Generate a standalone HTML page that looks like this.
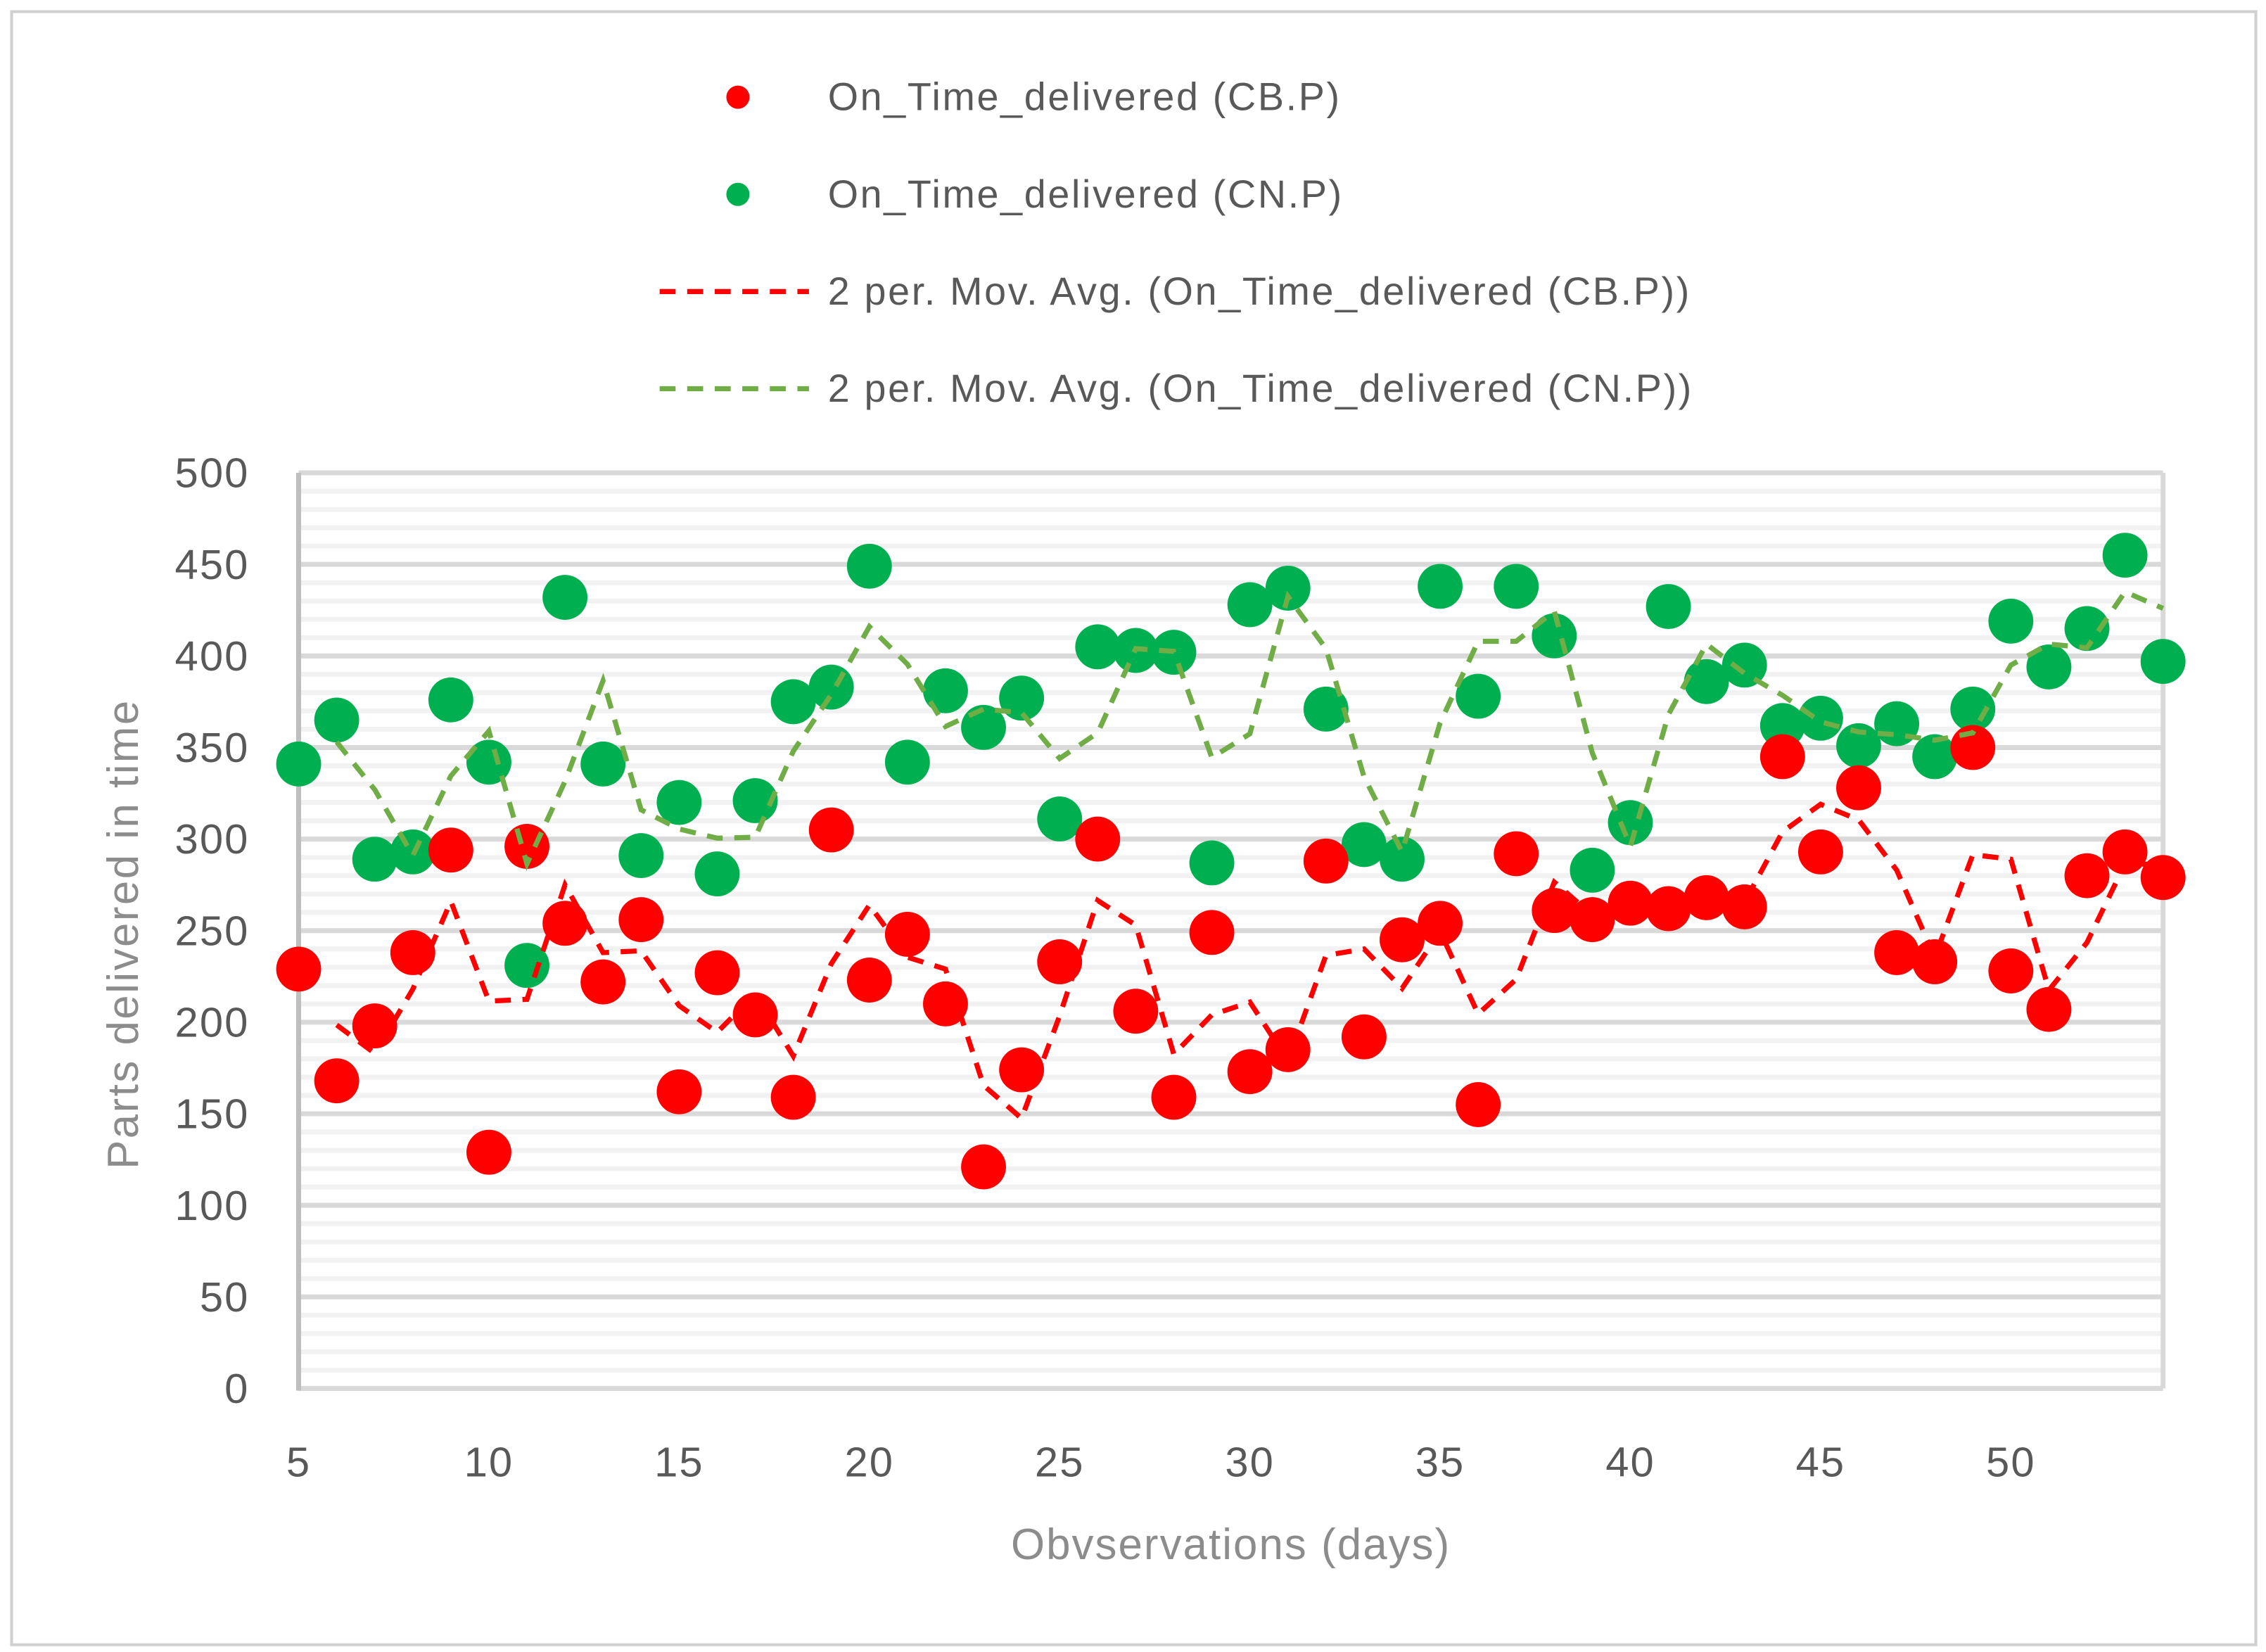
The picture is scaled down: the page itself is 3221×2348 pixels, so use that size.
<!DOCTYPE html>
<html><head><meta charset="utf-8"><style>
html,body{margin:0;padding:0;background:#fff;}
svg{display:block;font-family:"Liberation Sans",sans-serif;}
</style></head><body>
<svg id="chart" width="3221" height="2348" viewBox="0 0 1563 1139" preserveAspectRatio="none" xmlns="http://www.w3.org/2000/svg">
<rect x="8" y="8" width="1548" height="1126" fill="#fff" stroke="#d0d0d0" stroke-width="2"/>
<g id="grid"></g>
<g id="axes"></g>
<g id="series"></g>
<g id="legend">
  <circle cx="509" cy="67" r="8" fill="#ff0000"/>
  <text x="571" y="76" font-size="27" letter-spacing="1.3" fill="#595959">On_Time_delivered (CB.P)</text>
  <circle cx="509" cy="134" r="8" fill="#00b050"/>
  <text x="571" y="143" font-size="27" letter-spacing="1.3" fill="#595959">On_Time_delivered (CN.P)</text>
  <line x1="455" y1="201" x2="558" y2="201" stroke="#ff0000" stroke-width="3.5" stroke-dasharray="11,8"/>
  <text x="571" y="210" font-size="27" letter-spacing="1.3" fill="#595959">2 per. Mov. Avg. (On_Time_delivered (CB.P))</text>
  <line x1="455" y1="268" x2="558" y2="268" stroke="#70ad47" stroke-width="3.5" stroke-dasharray="11,8"/>
  <text x="571" y="277" font-size="27" letter-spacing="1.3" fill="#595959">2 per. Mov. Avg. (On_Time_delivered (CN.P))</text>
</g>
<text x="95" y="644" font-size="30" letter-spacing="1.2" fill="#8c8c8c" text-anchor="middle" transform="rotate(-90 95 644)">Parts delivered in time</text>
<text x="849" y="1075" font-size="30" letter-spacing="1" fill="#8c8c8c" text-anchor="middle">Obvservations (days)</text>
</svg>
<script>
const days=[5,6,7,8,9,10,11,12,13,14,15,16,17,18,19,20,21,22,23,24,25,26,27,28,29,30,31,32,33,34,35,36,37,38,39,40,41,42,43,44,45,46,47,48,49,50,51,52,53,54];
const cbp=[229,168,198,238,294,129,296,254,222,256,162,227,204,159,305,223,248,210,121,174,233,300,206,159,249,173,185,288,192,245,254,155,292,261,256,265,262,268,263,345,293,328,238,233,350,228,207,280,293,279];
const cnp=[341,365,289,293,376,342,231,432,341,291,320,281,321,375,383,449,342,381,361,377,311,405,403,402,287,428,437,371,297,289,438,378,438,411,283,309,427,386,395,362,366,351,363,345,371,419,394,415,455,397];
const yTicks=[0,50,100,150,200,250,300,350,400,450,500];
const xTicks=[5,10,15,20,25,30,35,40,45,50];
const NS="http://www.w3.org/2000/svg";
const X0=206,X1=1492,Y0=957.3,Y1=326;
function xs(d){return X0+(d-5)/(54-5)*(X1-X0);}
function ys(v){return Y0-(v/500)*(Y0-Y1);}
function mk(tag,attrs,parent){const e=document.createElementNS(NS,tag);for(const k in attrs)e.setAttribute(k,attrs[k]);parent.appendChild(e);return e;}
const grid=document.getElementById('grid'),axes=document.getElementById('axes'),series=document.getElementById('series');
for(let v=10;v<=500;v+=10){if(v%50===0)continue;
 const l=mk('line',{x1:X0,x2:X1,y1:ys(v),y2:ys(v),stroke:'#f2f2f2','stroke-width':3.4},grid);
 
 }
yTicks.forEach(v=>{
 const l=mk('line',{x1:X0,x2:X1,y1:ys(v),y2:ys(v),stroke:'#d9d9d9','stroke-width':3.4},grid);
 
 
 const t=mk('text',{x:172,y:ys(v)+10,'font-size':29,'letter-spacing':1,fill:'#595959','text-anchor':'end'},axes);t.textContent=v;
 
 });
const la=mk('line',{x1:X0,x2:X0,y1:Y1,y2:Y0+1.5,stroke:'#bfbfbf','stroke-width':3.4},axes);


const ra=mk('line',{x1:X1,x2:X1,y1:Y1,y2:Y0,stroke:'#d9d9d9','stroke-width':3.4},axes);


xTicks.forEach(d=>{const t=mk('text',{x:xs(d),y:1018,'font-size':29,'letter-spacing':1,fill:'#595959','text-anchor':'middle'},axes);t.textContent=d;
 
 });
function avgPath(arr,color,name){let p='';for(let i=1;i<arr.length;i++){const v=(arr[i]+arr[i-1])/2;p+=(i===1?'M':'L')+xs(days[i])+','+ys(v)+' ';}
 const e=mk('path',{d:p,fill:'none',stroke:color,'stroke-width':3.5,'stroke-dasharray':'11,8'},series);
 
 }
function pts(arr,color,name){arr.forEach((v,i)=>{const c=mk('circle',{cx:xs(days[i]),cy:ys(v),r:15.5,fill:color},series);
 
 });}
pts(cnp,'#00b050','point-cnp');
pts(cbp,'#ff0000','point-cbp');
avgPath(cbp,'#ff0000','moving-average-cbp');
avgPath(cnp,'#70ad47','moving-average-cnp');
</script>
</body></html>
